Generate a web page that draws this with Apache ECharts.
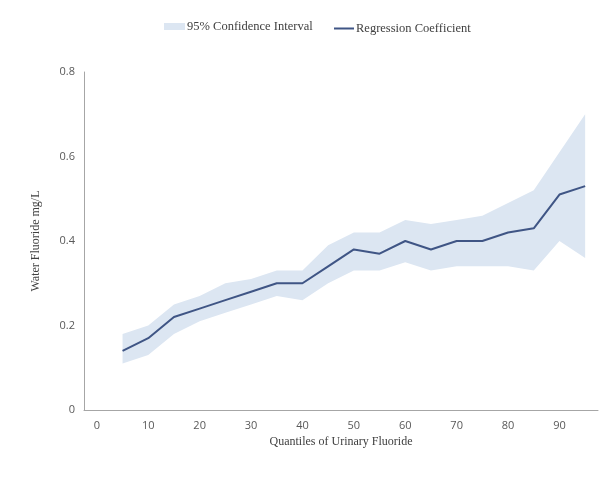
<!DOCTYPE html>
<html><head><meta charset="utf-8">
<script src="https://cdn.jsdelivr.net/npm/echarts@6/dist/echarts.min.js"></script>
<style>html,body{margin:0;padding:0;background:#fff}#c{width:600px;height:481px}</style>
</head><body><div id="c"></div>
<script>
const quantiles = [5,10,15,20,25,30,35,40,45,50,55,60,65,70,75,80,85,90,95];
const coef  = [0.14,0.17,0.22,0.24,0.26,0.28,0.30,0.30,0.34,0.38,0.37,0.40,0.38,0.40,0.40,0.42,0.43,0.51,0.53];
const upper = [0.18,0.20,0.25,0.27,0.30,0.31,0.33,0.33,0.39,0.42,0.42,0.45,0.44,0.45,0.46,0.49,0.52,0.61,0.70];
const lower = [0.11,0.13,0.18,0.21,0.23,0.25,0.27,0.26,0.30,0.33,0.33,0.35,0.33,0.34,0.34,0.34,0.33,0.40,0.36];
const xTicks = [0,10,20,30,40,50,60,70,80,90];
const yTicks = [0,0.2,0.4,0.6,0.8];

const chart = echarts.init(document.getElementById('c'));
const serif = '"Liberation Serif", "Times New Roman", serif';
const sans = '"Open Sans", "Liberation Sans", sans-serif';
const bandColor = '#dce6f2';
const lineColor = '#3f5585';
chart.setOption({
  animation: false,
  legend: [{
    data: [{name: '95% Confidence Interval', icon: 'rect', itemStyle: {color: bandColor}}],
    left: 159, top: 15, itemWidth: 21, itemHeight: 7, itemGap: 4,
    textStyle: {fontFamily: serif, fontSize: 12.5, color: '#404040', padding: [0,0,0,-3]}
  },{
    data: [{name: 'Regression Coefficient', icon: 'rect', itemStyle: {color: lineColor}}],
    left: 329, top: 17, itemWidth: 20, itemHeight: 2, itemGap: 4,
    textStyle: {fontFamily: serif, fontSize: 12.5, color: '#404040', padding: [0,0,0,-3]}
  }],
  grid: {left: 84, right: 2, top: 72, bottom: 71, containLabel: false},
  xAxis: {
    type: 'value', min: -2.5, max: 97.5,
    name: 'Quantiles of Urinary Fluoride', nameLocation: 'middle', nameGap: 25,
    nameTextStyle: {fontFamily: serif, fontSize: 12, color: '#404040'},
    axisLine: {show: true, onZero: false, lineStyle: {color: '#a6a6a6', width: 1}},
    axisTick: {show: false},
    splitLine: {show: false},
    axisLabel: {customValues: xTicks, fontFamily: sans, fontSize: 11, color: '#595959', margin: 10}
  },
  yAxis: {
    type: 'value', min: 0, max: 0.8,
    name: 'Water Fluoride mg/L', nameLocation: 'middle', nameGap: 42,
    nameTextStyle: {fontFamily: serif, fontSize: 12, color: '#404040'},
    axisLine: {show: true, onZero: false, lineStyle: {color: '#a6a6a6', width: 1}},
    axisTick: {show: false},
    splitLine: {show: false},
    axisLabel: {customValues: yTicks, fontFamily: sans, fontSize: 11, color: '#595959', margin: 9,
      formatter: v => String(+v.toFixed(1))}
  },
  series: [
    {
      name: '95% Confidence Interval', type: 'custom', silent: true,
      itemStyle: {color: bandColor},
      data: [0],
      renderItem: function (params, api) {
        const pts = [];
        quantiles.forEach((q, i) => pts.push(api.coord([q, upper[i]])));
        for (let i = quantiles.length - 1; i >= 0; i--) pts.push(api.coord([quantiles[i], lower[i]]));
        return {type: 'polygon', shape: {points: pts}, style: {fill: bandColor}};
      }
    },
    {
      name: 'Regression Coefficient', type: 'line', symbol: 'none',
      itemStyle: {color: lineColor},
      lineStyle: {color: lineColor, width: 2},
      data: quantiles.map((q, i) => [q, coef[i]])
    }
  ]
});
</script></body></html>
